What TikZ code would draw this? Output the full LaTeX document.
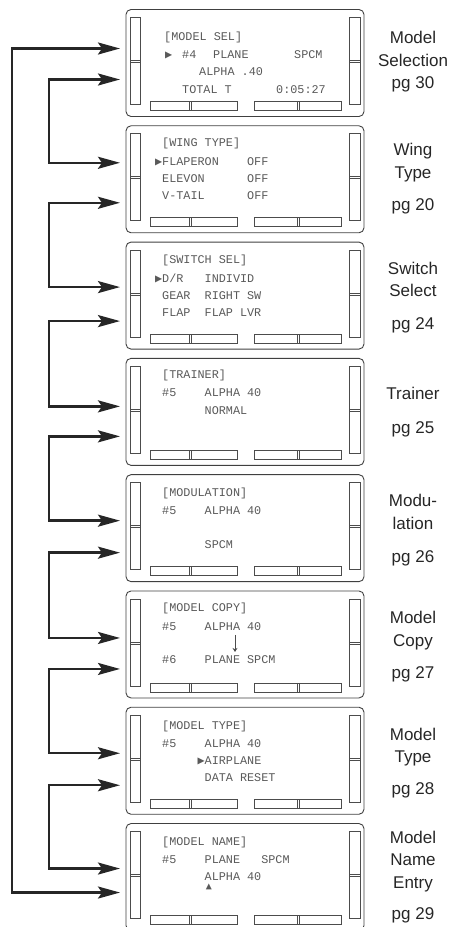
\documentclass[tikz,border=0pt]{standalone}
\usepackage{fontspec}
\setmainfont{Liberation Sans}
\newfontfamily\lcdfont{Liberation Mono}
\newfontfamily\trifont{DejaVu Sans Mono}
\usetikzlibrary{arrows.meta, positioning}

\begin{document}
\begin{tikzpicture}[
    x=1pt, y=1pt,
    scr/.style={draw=black!75, line width=0.9pt, rounded corners=5pt,
      minimum width=238pt, minimum height=107pt, inner sep=0pt, outer sep=0pt},
    part/.style={draw=black!70, line width=0.7pt},
    lcd/.style={font=\lcdfont\fontsize{11.8}{12}\selectfont, text=black!65,
      inner sep=0pt, anchor=base west},
    lbl/.style={font=\fontsize{17}{22.5}\selectfont, text=black!85,
      align=center, inner sep=0pt, anchor=base},
    arr/.style={>={Stealth[length=22pt, width=12pt, inset=4pt]}, <->,
      line width=2.4pt, black!85},
    node distance=9.29pt
  ]
    \useasboundingbox (0,0) rectangle (460,-927);
    \node[scr] (sel) at (245,-63) {};
    \node[scr, below=of sel]  (wing) {};
    \node[scr, below=of wing] (sw)   {};
    \node[scr, below=of sw]   (trn)  {};
    \node[scr, below=of trn]  (mod)  {};
    \node[scr, below=of mod]  (copy) {};
    \node[scr, below=of copy] (type) {};
    \node[scr, below=of type] (name) {};
    % side bars and soft keys
    \foreach \s in {sel,wing,sw,trn,mod,copy,type,name}{
      \begin{scope}[shift={(\s.north west)}]
        \draw[part] (4,-8) rectangle (14.7,-95) (4,-51) -- (14.7,-51) (4,-53) -- (14.7,-53);
        \draw[part] (223.5,-8) rectangle (234,-95) (223.5,-51) -- (234,-51) (223.5,-53) -- (234,-53);
        \draw[part] (24,-92) rectangle (111,-101) (63,-92) -- (63,-101) (65,-92) -- (65,-101);
        \draw[part] (128,-92) rectangle (215,-101) (171,-92) -- (171,-101) (173,-92) -- (173,-101);
      \end{scope}
    }
    % screen texts
    \begin{scope}[shift={(sel.north west)}]
      \node[lcd] (selA) at (38,-31) {[MODEL SEL]};
      \node[lcd] (selP) at (39,-49) {\trifont ▶};
      \node[lcd] (selB) at (56,-49) {\#4};
      \node[lcd] (selC) at (87,-49) {PLANE};
      \node[lcd] (selD) at (168,-49) {SPCM};
      \node[lcd] (selE) at (73,-66) {ALPHA .40};
      \node[lcd] (selF) at (56,-84) {TOTAL T};
      \node[lcd] (selG) at (150,-84) {0:05:27};
    \end{scope}
    \begin{scope}[shift={(wing.north west)}]
      \node[lcd] (wingA) at (36,-21) {[WING TYPE]};
      \node[lcd] (wingB) at (28.9,-40) {{\trifont ▶}FLAPERON~~~~OFF};
      \node[lcd] (wingC) at (36,-57) {ELEVON~~~~~~OFF};
      \node[lcd] (wingD) at (36,-74) {V-TAIL~~~~~~OFF};
    \end{scope}
    \begin{scope}[shift={(sw.north west)}]
      \node[lcd] (swA) at (36,-21) {[SWITCH SEL]};
      \node[lcd] (swB) at (28.9,-40) {{\trifont ▶}D/R~~~INDIVID};
      \node[lcd] (swC) at (36,-57) {GEAR~~RIGHT~SW};
      \node[lcd] (swD) at (36,-74) {FLAP~~FLAP~LVR};
    \end{scope}
    \begin{scope}[shift={(trn.north west)}]
      \node[lcd] (trnA) at (36,-20) {[TRAINER]};
      \node[lcd] (trnB) at (36,-38) {\#5~~~~ALPHA~40};
      \node[lcd] (trnC) at (36,-56) {~~~~~~NORMAL};
    \end{scope}
    \begin{scope}[shift={(mod.north west)}]
      \node[lcd] (modA) at (36,-22) {[MODULATION]};
      \node[lcd] (modB) at (36,-40) {\#5~~~~ALPHA~40};
      \node[lcd] (modC) at (36,-74) {~~~~~~SPCM};
    \end{scope}
    \begin{scope}[shift={(copy.north west)}]
      \node[lcd] (copyA) at (36,-21) {[MODEL COPY]};
      \node[lcd] (copyB) at (36,-40) {\#5~~~~ALPHA~40};
      \node[lcd] (copyC) at (36,-73) {\#6~~~~PLANE~SPCM};
      \coordinate (cpTop) at (109,-44);
      \coordinate (cpBot) at (109,-61);
      \draw[part, -{Stealth[length=4pt, width=5pt]}] (cpTop) -- (cpBot);
    \end{scope}
    \begin{scope}[shift={(type.north west)}]
      \node[lcd] (typeA) at (36,-22) {[MODEL TYPE]};
      \node[lcd] (typeB) at (36,-40) {\#5~~~~ALPHA~40};
      \node[lcd] (typeC) at (36,-57) {~~~~~{\trifont ▶}AIRPLANE};
      \node[lcd] (typeD) at (36,-74) {~~~~~~DATA~RESET};
    \end{scope}
    \begin{scope}[shift={(name.north west)}]
      \node[lcd] (nameA) at (36,-22) {[MODEL NAME]};
      \node[lcd] (nameB) at (36,-40) {\#5~~~~PLANE~~~SPCM};
      \node[lcd] (nameC) at (36,-57) {~~~~~~ALPHA~40};
      \node[lcd, anchor=center, font=\trifont\fontsize{10}{10}\selectfont] (nameM) at (83,-63) {▲};
    \end{scope}
    % page labels
    \node[lbl] (selL)  at ([xshift=49pt, yshift=-79pt]sel.north east)  {Model\\Selection\\pg 30};
    \node[lbl] (wingL) at ([xshift=49pt, yshift=-85pt]wing.north east) {Wing\\Type\\[10pt]pg 20};
    \node[lbl] (swL)   at ([xshift=49pt, yshift=-87pt]sw.north east)   {Switch\\Select\\[10pt]pg 24};
    \node[lbl] (trnL)  at ([xshift=49pt, yshift=-75pt]trn.north east)  {Trainer\\[11pt]pg 25};
    \node[lbl] (modL)  at ([xshift=49pt, yshift=-88pt]mod.north east)  {Modu-\\lation\\[11pt]pg 26};
    \node[lbl] (copyL) at ([xshift=49pt, yshift=-88pt]copy.north east) {Model\\Copy\\[10pt]pg 27};
    \node[lbl] (typeL) at ([xshift=49pt, yshift=-87pt]type.north east) {Model\\Type\\[9pt]pg 28};
    \node[lbl] (nameL) at ([xshift=49pt, yshift=-96pt]name.north east) {Model\\Name\\Entry\\[9pt]pg 29};
    % connectors
    \foreach \a/\b/\ya/\yb in {sel/wing/70/37, wing/sw/77/45, sw/trn/79/48, trn/mod/78/46,
        mod/copy/78/47, copy/type/78/46, type/name/78/45}
      \draw[arr] ([xshift=-6pt, yshift=-\ya pt]\a.north west) -- ++(-71,0)
        |- ([xshift=-6pt, yshift=-\yb pt]\b.north west);
    \draw[arr] ([xshift=-6pt, yshift=-39pt]sel.north west) -- ++(-108,0)
      |- ([xshift=-6pt, yshift=-69pt]name.north west);
  \end{tikzpicture}
\end{document}
